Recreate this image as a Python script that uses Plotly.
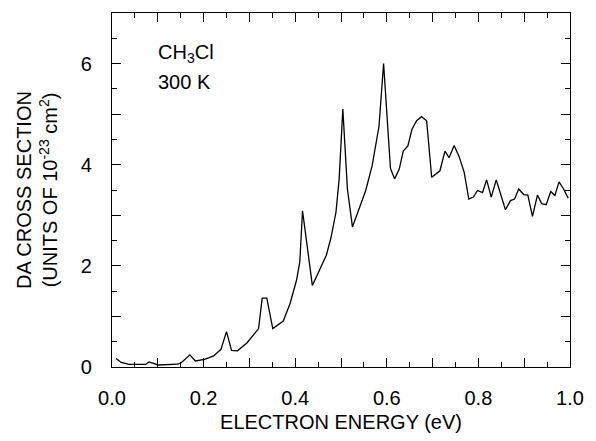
import plotly.graph_objects as go

energy = [0.009, 0.020, 0.037, 0.073, 0.081, 0.101, 0.144, 0.152, 0.170, 0.182,
          0.202, 0.222, 0.238, 0.250, 0.261, 0.274, 0.295, 0.320, 0.328, 0.338,
          0.351, 0.374, 0.389, 0.403, 0.410, 0.416, 0.4375, 0.468, 0.478, 0.489,
          0.496, 0.504, 0.514, 0.525, 0.554, 0.568, 0.583, 0.593, 0.608, 0.617,
          0.627, 0.636, 0.646, 0.655, 0.665, 0.676, 0.687, 0.698, 0.716, 0.727,
          0.736, 0.747, 0.758, 0.769, 0.779, 0.789, 0.798, 0.809, 0.818, 0.828,
          0.839, 0.850, 0.859, 0.870, 0.879, 0.888, 0.899, 0.908, 0.918, 0.929,
          0.938, 0.948, 0.958, 0.967, 0.976, 0.986, 0.996]
cross_section = [0.17, 0.09, 0.05, 0.05, 0.10, 0.04, 0.055, 0.09, 0.24, 0.12,
                 0.15, 0.22, 0.35, 0.70, 0.33, 0.32, 0.48, 0.76, 1.36, 1.36,
                 0.76, 0.91, 1.26, 1.72, 2.08, 3.09, 1.61, 2.21, 2.55, 3.06,
                 3.72, 5.10, 3.52, 2.77, 3.49, 3.98, 4.76, 6.00, 3.93, 3.72,
                 3.91, 4.27, 4.37, 4.70, 4.87, 4.95, 4.87, 3.75, 3.88, 4.27,
                 4.14, 4.38, 4.16, 3.85, 3.32, 3.36, 3.49, 3.45, 3.70, 3.36,
                 3.70, 3.36, 3.11, 3.29, 3.32, 3.52, 3.41, 3.40, 2.98, 3.40,
                 3.23, 3.21, 3.47, 3.39, 3.66, 3.52, 3.34]

x_tickvals = [0.0, 0.1, 0.2, 0.3, 0.4, 0.5, 0.6, 0.7, 0.8, 0.9, 1.0]
x_ticktext = ["0.0", "", "0.2", "", "0.4", "", "0.6", "", "0.8", "", "1.0"]
y_tickvals = [0, 1, 2, 3, 4, 5, 6, 7]
y_ticktext = ["0", "", "2", "", "4", "", "6", ""]

FONT = "Liberation Sans, Arial, sans-serif"

fig = go.Figure()
fig.add_trace(go.Scatter(x=energy, y=cross_section, mode="lines",
                         line=dict(color="black", width=1.3), showlegend=False))

axis_common = dict(showline=True, linecolor="black", linewidth=1.2, mirror="ticks",
                   ticks="inside", ticklen=9, tickwidth=1.1, tickcolor="black",
                   showgrid=False, zeroline=False,
                   tickfont=dict(family=FONT, size=20, color="black"))

fig.update_xaxes(range=[0, 1.0], tickmode="array", tickvals=x_tickvals, ticktext=x_ticktext,
                 minor=dict(tick0=0, dtick=0.05, ticks="inside", ticklen=5, tickcolor="black", tickwidth=1),
                 title=dict(text="ELECTRON ENERGY (eV)", font=dict(family=FONT, size=20, color="black"),
                            standoff=6),
                 ticklabelstandoff=13, **axis_common)
fig.update_yaxes(range=[0, 7], tickmode="array", tickvals=y_tickvals, ticktext=y_ticktext,
                 minor=dict(tick0=0, dtick=0.5, ticks="inside", ticklen=5, tickcolor="black", tickwidth=1),
                 title=dict(text="DA CROSS SECTION<br>(UNITS OF 10<sup>-23</sup> cm<sup>2</sup>)",
                            font=dict(family=FONT, size=20, color="black"), standoff=17),
                 ticklabelstandoff=15, **axis_common)

fig.add_annotation(x=0.095, y=6.2, xref="x", yref="y", xanchor="left", yanchor="middle",
                   text="CH<sub>3</sub>Cl", showarrow=False,
                   font=dict(family=FONT, size=20, color="black"))
fig.add_annotation(x=0.095, y=5.64, xref="x", yref="y", xanchor="left", yanchor="middle",
                   text="300 K", showarrow=False,
                   font=dict(family=FONT, size=20, color="black"))

fig.update_layout(width=596, height=441, margin=dict(l=112, r=19, t=13, b=72),
                  plot_bgcolor="white", paper_bgcolor="white")

fig.write_html("out.html")
